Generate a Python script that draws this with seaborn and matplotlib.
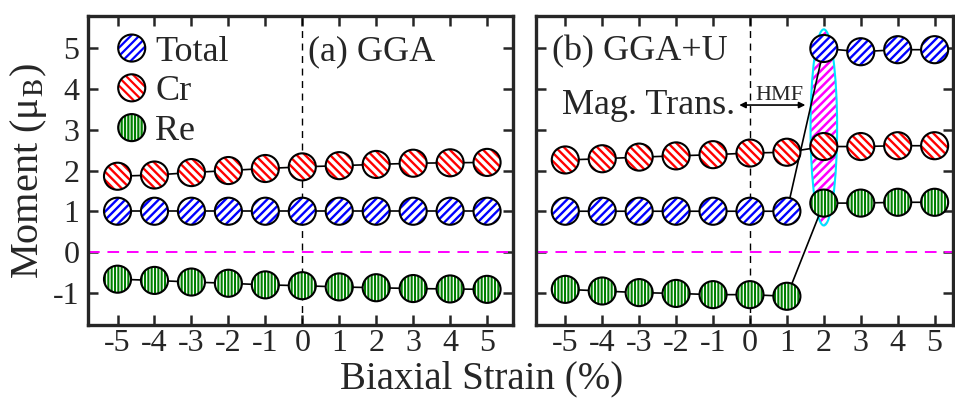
import matplotlib
matplotlib.use("Agg")
import matplotlib.pyplot as plt
from matplotlib.patches import Ellipse
from matplotlib.legend_handler import HandlerTuple
import pandas as pd
import seaborn as sns

# Biaxial strain (%) and magnetic moments (mu_B)
strain = [-5, -4, -3, -2, -1, 0, 1, 2, 3, 4, 5]

total_gga = [1.00, 1.00, 1.00, 1.00, 1.00, 1.00, 1.00, 1.00, 1.00, 1.00, 1.00]
cr_gga = [1.86, 1.89, 1.95, 2.00, 2.05, 2.09, 2.12, 2.15, 2.18, 2.19, 2.20]
re_gga = [-0.67, -0.70, -0.74, -0.77, -0.81, -0.83, -0.86, -0.88, -0.90, -0.91, -0.92]

total_u = [1.00, 1.00, 1.00, 1.00, 1.00, 1.00, 1.00, 5.00, 4.92, 4.97, 4.97]
cr_u = [2.26, 2.29, 2.33, 2.36, 2.39, 2.43, 2.45, 2.59, 2.59, 2.61, 2.61]
re_u = [-0.92, -0.96, -1.00, -1.02, -1.05, -1.05, -1.09, 1.20, 1.20, 1.22, 1.22]

series_names = ["Total", "Cr", "Re"]
series_colors = {"Total": "#0000ff", "Cr": "#ff0000", "Re": "#008000"}
series_hatch = {"Total": "////", "Cr": "\\\\\\\\", "Re": "|||||"}
hatch_width = {"Total": 1.7, "Cr": 1.7, "Re": 1.5}

panel_titles = ["(a) GGA", "(b) GGA+U"]
y_ticks = [-1, 0, 1, 2, 3, 4, 5]
x_ticks = strain

sns.set_style("ticks")
plt.rcParams["font.family"] = ["Liberation Serif", "DejaVu Serif"]
plt.rcParams["mathtext.fontset"] = "stix"
plt.rcParams["axes.unicode_minus"] = False
plt.rcParams["hatch.linewidth"] = 1.6

fig = plt.figure(figsize=(9.55, 3.98), dpi=100)
ax_a = fig.add_axes([0.0921, 0.183, 0.445, 0.777])
ax_b = fig.add_axes([0.561, 0.183, 0.437, 0.777])

panels = [
    (ax_a, {"Total": total_gga, "Cr": cr_gga, "Re": re_gga}, (-5.8, 5.7)),
    (ax_b, {"Total": total_u, "Cr": cr_u, "Re": re_u}, (-5.8, 5.5)),
]

MS = 380  # marker area in pt^2
legend_handles = []


def set_hatch_width(artist, width):
    if hasattr(artist, "set_hatch_linewidth"):
        artist.set_hatch_linewidth(width)


for i, (ax, data, xlim) in enumerate(panels):
    # reference lines
    ax.axhline(0, color="#ff00ff", lw=1.4, ls=(0, (6, 4)), zorder=1)
    ax.axvline(0, color="black", lw=1.0, ls=(0, (5, 4)), zorder=1)

    for name in series_names:
        df = pd.DataFrame({"strain": strain, "moment": data[name]})
        sns.lineplot(data=df, x="strain", y="moment", ax=ax, color="black",
                     lw=1.2, zorder=2, sort=False)
        sns.scatterplot(data=df, x="strain", y="moment", ax=ax,
                        color="white", edgecolor=series_colors[name],
                        linewidth=0, hatch=series_hatch[name], s=MS,
                        zorder=3)
        fill_coll = ax.collections[-1]
        set_hatch_width(fill_coll, hatch_width[name])
        sns.scatterplot(data=df, x="strain", y="moment", ax=ax,
                        facecolors="none", edgecolor="black", linewidth=1.5,
                        s=MS, zorder=4)
        outline_coll = ax.collections[-1]
        if i == 0:
            legend_handles.append((fill_coll, outline_coll))

    ax.set_xlim(*xlim)
    ax.set_ylim(-1.8, 5.8)
    ax.set_xticks(x_ticks)
    ax.set_xticklabels([str(v) for v in x_ticks])
    ax.set_yticks(y_ticks)
    ax.set_xlabel("")
    ax.set_ylabel("")
    ax.tick_params(direction="in", length=7, width=1.8, top=True, right=True,
                   labelsize=23)
    ax.tick_params(axis="x", pad=3)
    ax.tick_params(axis="y", pad=6)
    for sp in ax.spines.values():
        sp.set_linewidth(2.4)
        sp.set_visible(True)

ax_a.set_yticklabels([str(v) for v in y_ticks])
ax_b.set_yticklabels([])

ax_a.text(0.15, 4.72, panel_titles[0], fontsize=26, ha="left", va="baseline")
ax_b.text(-5.37, 4.72, panel_titles[1], fontsize=26, ha="left", va="baseline")

# half-metallic window and magnetic transition
ax_b.text(-5.1, 3.40, "Mag. Trans.", fontsize=26, ha="left", va="baseline")
ax_b.text(0.15, 3.74, "HMF", fontsize=16, ha="left", va="baseline")
ax_b.annotate("", xy=(1.5, 3.61), xytext=(-0.29, 3.61),
              arrowprops=dict(arrowstyle="<|-|>", lw=1.2, color="black",
                              mutation_scale=9, shrinkA=0, shrinkB=0),
              zorder=5)
ell = Ellipse((2, 3.06), 0.72, 4.82, facecolor="white",
              edgecolor="#ff00ff", lw=0, hatch="////", zorder=1.5)
ax_b.add_patch(ell)
set_hatch_width(ell, 1.8)
ax_b.add_patch(Ellipse((2, 3.06), 0.72, 4.82, facecolor="none",
                       edgecolor="#00e5ff", lw=1.5, zorder=1.6))

leg = ax_a.legend(legend_handles, series_names, loc="upper left",
                  bbox_to_anchor=(0.035, 0.972), frameon=False, fontsize=26,
                  scatterpoints=1, scatteryoffsets=[0.5], handlelength=1.0,
                  handletextpad=0.15, labelspacing=0.18, borderaxespad=0.0,
                  borderpad=0.3,
                  handler_map={tuple: HandlerTuple(ndivide=1, pad=0)})

fig.text(0.030, 0.57, r"Moment (μ$_\mathrm{B}$)", fontsize=29,
         rotation=90, ha="center", va="center")
fig.text(0.504, 0.024, "Biaxial Strain (%)", fontsize=28, ha="center",
         va="baseline")

fig.savefig("out.png", dpi=100)
